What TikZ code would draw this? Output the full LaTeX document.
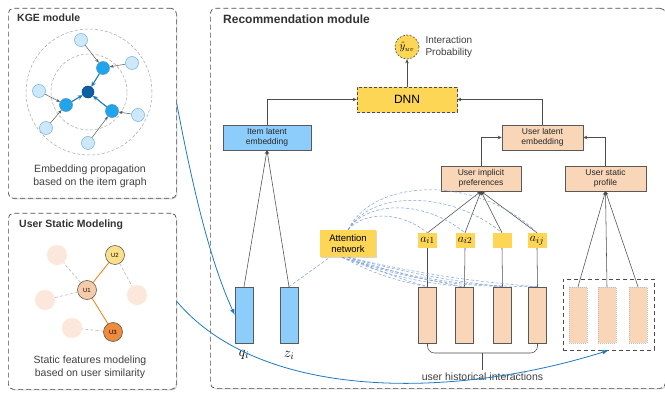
\documentclass[tikz,border=0pt]{standalone}
\usepackage{fontspec}
\setmainfont{Liberation Sans}
\usepackage{amsmath}
\usetikzlibrary{arrows.meta,shadows,positioning}

\definecolor{kgelight}{HTML}{CDE8F8}
\definecolor{kgeedge}{HTML}{6FB3DE}
\definecolor{kgemid}{HTML}{1EA5EC}
\definecolor{kgedark}{HTML}{0B5FA6}
\definecolor{itemblue}{HTML}{8DCDFC}
\definecolor{peach}{HTML}{F9D6B8}
\definecolor{gold}{HTML}{FCD654}
\definecolor{uone}{HTML}{F6CBAA}
\definecolor{utwo}{HTML}{FBE08C}
\definecolor{uthree}{HTML}{EE8B3E}
\definecolor{faded}{HTML}{FCE7DC}
\definecolor{flowblue}{HTML}{1F7BC0}
\definecolor{attnblue}{HTML}{7D9FD8}

\tikzset{
  modbox/.style={draw=gray!60!black, line width=0.7pt, dash pattern=on 5pt off 3pt,
    rounded corners=5pt, fill=white, anchor=north west,
    drop shadow={shadow xshift=1pt, shadow yshift=-1pt, opacity=0.35}},
  modtitle/.style={anchor=west, inner sep=0pt, text=black!80},
  caption/.style={align=center, text=black!75, font=\fontsize{10.5}{13}\selectfont},
  embbox/.style={draw=gray!70!black, line width=0.5pt, minimum height=25pt, align=center,
    inner sep=1pt, text=black!85, font=\fontsize{8.5}{10.5}\selectfont},
  goldbox/.style={fill=gold, draw=gray!60!black, line width=0.6pt, dash pattern=on 3pt off 2pt,
    drop shadow={shadow xshift=1pt, shadow yshift=-1pt, opacity=0.3}},
  weight/.style={fill=gold, minimum width=19pt, minimum height=15pt, inner sep=0pt,
    font=\fontsize{12.5}{12.5}\selectfont},
  vecbar/.style={draw=gray!70!black, line width=0.5pt, minimum width=18pt, minimum height=56pt, inner sep=0pt},
  link/.style={draw=black!70, line width=0.55pt},
  arr/.style={link, -{Stealth[length=4pt, width=3.5pt]}},
  attnline/.style={draw=attnblue, line width=0.5pt, dash pattern=on 3pt off 2pt},
  flow/.style={draw=flowblue, line width=0.8pt, -{Latex[length=6pt, width=4.5pt]}},
  % knowledge graph entities
  leafent/.style={circle, fill=kgelight, draw=kgeedge, line width=0.5pt, minimum size=13pt, inner sep=0pt},
  mident/.style={circle, fill=kgemid, draw=kgedark!70, line width=0.5pt, minimum size=13pt, inner sep=0pt},
  kgein/.style={draw=gray!70!black, line width=0.5pt, -{Stealth[length=4pt, width=3pt]}},
  kgeout/.style={draw=kgemid!75!black, line width=1.1pt, -{Stealth[length=5pt, width=4.5pt]}},
  % user similarity graph
  usr/.style={circle, draw=gray!60!black, line width=0.5pt, minimum size=19pt, inner sep=0pt,
    font=\fontsize{6}{6}\selectfont},
  ghost/.style={circle, fill=faded, draw=orange!15, dash pattern=on 1.5pt off 1.5pt, line width=0.5pt,
    minimum size=20pt, inner sep=0pt},
  simlink/.style={draw=gray!55, line width=0.6pt, dash pattern=on 3pt off 2pt},
  strong/.style={draw=orange!75!brown, line width=0.8pt}
}

\begin{document}
\begin{tikzpicture}[x=1pt, y=-1pt]
  \useasboundingbox (0,0) rectangle (665,393);

  % three module frames
  \node[modbox, minimum width=168pt, minimum height=190pt] (kge) at (8,8) {};
  \node[modbox, minimum width=168pt, minimum height=176pt] (usm) at (8,213) {};
  \node[modbox, minimum width=455pt, minimum height=380pt] (rec) at (210,8) {};

  % ---------------- KGE module ----------------
  \node[modtitle, font=\bfseries\fontsize{10.5}{12}\selectfont] (kgetitle) at (17,18) {KGE module};
  \draw[gray!70, dash pattern=on 3pt off 2pt, line width=0.5pt] (89,92) circle[radius=38pt];
  \draw[gray!70, dash pattern=on 3pt off 2pt, line width=0.5pt] (89,92) circle[radius=63pt];
  \node[circle, fill=kgedark, draw=kgedark!70!black, line width=0.5pt, minimum size=12pt, inner sep=0pt] (c) at (88,92) {};
  \node[mident] (m1) at (103,68) {};
  \node[mident] (m2) at (66,105) {};
  \node[mident] (m3) at (112,111) {};
  \node[leafent] (l1) at (81,40) {};
  \node[leafent] (l2) at (132,63) {};
  \node[leafent] (l3) at (39,91) {};
  \node[leafent] (l4) at (46,128) {};
  \node[leafent] (l5) at (88,143) {};
  \node[leafent] (l6) at (138,115) {};
  \draw[kgein] (l1) -- (m1);
  \draw[kgein] (l2) -- (m1);
  \draw[kgein] (l3) -- (m2);
  \draw[kgein] (l4) -- (m2);
  \draw[kgein] (l5) -- (m3);
  \draw[kgein] (l6) -- (m3);
  \draw[kgeout] (m1) -- (c);
  \draw[kgeout] (m2) -- (c);
  \draw[kgeout] (m3) -- (c);
  \node[caption] (kgecap) at (90,176.5) {Embedding propagation\\based on the item graph};

  % ---------------- user static modeling ----------------
  \node[modtitle, font=\bfseries\fontsize{10.5}{12}\selectfont] (usmtitle) at (19,225) {User Static Modeling};
  \node[ghost] (f1) at (57,255) {};
  \node[ghost] (f2) at (45,300) {};
  \node[ghost] (f3) at (137,295) {};
  \node[ghost] (f4) at (72,328) {};
  \node[usr, fill=uone] (u1) at (87,290) {U1};
  \node[usr, fill=utwo] (u2) at (115,255) {U2};
  \node[usr, fill=uthree] (u3) at (113,332) {U3};
  \draw[simlink] (u1) -- (f1);
  \draw[simlink] (u1) -- (f2);
  \draw[simlink] (u2) -- (f3);
  \draw[simlink] (u3) -- (f4);
  \draw[strong] (u1) -- (u2);
  \draw[strong] (u1) -- (u3);
  \node[caption] (usmcap) at (90,367) {Static features modeling\\based on user similarity};

  % ---------------- recommendation module ----------------
  \node[modtitle, font=\bfseries\fontsize{12}{14}\selectfont] (rectitle) at (223,19) {Recommendation module};

  \node[circle, fill=gold, draw=gray!60!black, line width=0.6pt, dash pattern=on 2pt off 1.5pt,
    minimum size=24pt, inner sep=0pt, font=\fontsize{10.5}{10.5}\selectfont] (yhat) at (407,47) {$\hat{y}_{uv}$};
  \node[anchor=west, align=left, text=black!75, font=\fontsize{10}{12}\selectfont] (prob) at (422,47) {Interaction\\Probability};
  \node[goldbox, minimum width=100pt, minimum height=25pt, font=\fontsize{12}{12}\selectfont] (dnn) at (407,99.5) {DNN};

  \node[embbox, fill=itemblue, minimum width=88pt] (itememb) at (267,137.5) {Item latent\\embedding};
  \node[embbox, fill=peach, minimum width=81pt] (useremb) at (542.5,137.5) {User latent\\embedding};
  \node[embbox, fill=peach, minimum width=80pt] (implicit) at (481,178.5) {User implicit\\preferences};
  \node[embbox, fill=peach, minimum width=81pt] (static) at (605.5,178.5) {User static\\profile};

  \draw[arr] (dnn) -- (yhat);
  \draw[arr] (itememb.north) |- (dnn.west);
  \draw[arr] (useremb.north) |- (dnn.east);
  \draw[arr] (implicit.north) |- (useremb.west);
  \draw[arr] (static.north) |- (useremb.east);

  % item side vectors
  \node[vecbar, fill=itemblue] (qi) at (244,315) {};
  \node[vecbar, fill=itemblue] (zi) at (289,315) {};
  \node[font=\fontsize{14}{14}\selectfont] (qilab) at (244,355) {$q_i$};
  \node[font=\fontsize{14}{14}\selectfont] (zilab) at (289,355) {$z_i$};
  \draw[arr] (qi.north) -- (itememb.south);
  \draw[arr] (zi.north) -- (itememb.south);

  % attention weights over the history
  \node[goldbox, draw=none, minimum width=56pt, minimum height=27pt, align=center,
    font=\fontsize{9.5}{11}\selectfont] (attn) at (348,243.5) {Attention\\network};
  \node[weight] (a1) at (427.5,240.5) {$a_{i1}$};
  \node[weight] (a2) at (465,240.5) {$a_{i2}$};
  \node[weight] (a3) at (502,240.5) {};
  \node[weight] (a4) at (537,240.5) {$a_{ij}$};
  \node[vecbar, fill=peach] (h1) at (427.5,315) {};
  \node[vecbar, fill=peach] (h2) at (464.5,315) {};
  \node[vecbar, fill=peach] (h3) at (502.5,315) {};
  \node[vecbar, fill=peach] (h4) at (537.5,315) {};
  \foreach \k in {1,...,4} {
    \draw[link] (h\k.north) -- (a\k.south);
    \draw[arr] (a\k.north) -- (implicit.south);
    \draw[attnline] (attn.south) to[bend right=4] (h\k.north);
    \draw[attnline] ([xshift=-6pt]attn.south) to[bend right=8] (h\k.north);
  }
  \draw[attnline] (attn.north) .. controls (365,211) and (400,211) .. (a1.north);
  \draw[attnline] (attn.north) .. controls (368,200) and (425,200) .. (a2.north);
  \draw[attnline] (attn.north) .. controls (372,190) and (450,190) .. (a3.north);
  \draw[attnline] (attn.north) .. controls (375,176) and (480,176) .. (a4.north);
  \draw[attnline] (zi.north) -- ([xshift=10pt]attn.south west);

  \coordinate (hmid) at (482.5,353);
  \draw[link, rounded corners=7pt] (h1.south) |- (hmid) -| (h4.south);
  \node[text=black!75, font=\fontsize{10.5}{12}\selectfont] (histlab) at (482.5,377) {user historical interactions};
  \draw[link] (hmid) -- (histlab.north);

  % static profile features
  \node[draw=gray!60!black, line width=0.8pt, dash pattern=on 4pt off 3pt,
    minimum width=91pt, minimum height=71pt] (spbox) at (608.5,314.5) {};
  \node[vecbar, fill=peach, draw=gray!50, dash pattern=on 1pt off 1pt] (s1) at (578,315) {};
  \node[vecbar, fill=peach, draw=gray!50, dash pattern=on 1pt off 1pt] (s2) at (607,315) {};
  \node[vecbar, fill=peach, draw=gray!50, dash pattern=on 1pt off 1pt] (s3) at (638,315) {};
  \draw[arr] (s1.north) -- (static.south);
  \draw[arr] (s2.north) -- (static.south);
  \draw[arr] (s3.north) -- (static.south);

  % embeddings handed over from the side modules
  \draw[flow] (kge.east) .. controls (195,200) and (212,265) .. (qi.west);
  \draw[flow] (usm.east) .. controls (260,400) and (450,400) .. (spbox.south);
\end{tikzpicture}
\end{document}
